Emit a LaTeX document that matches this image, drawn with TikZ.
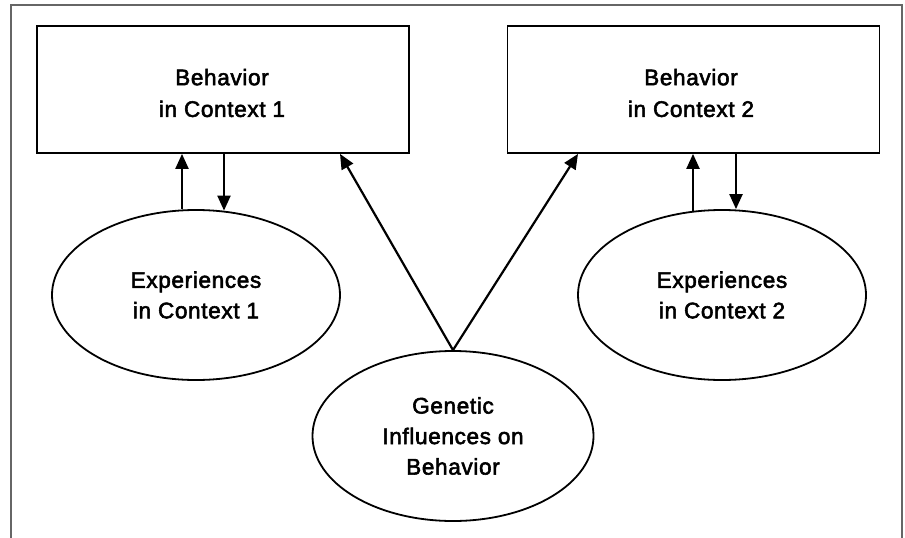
\documentclass[tikz,border=0pt]{standalone}
\usepackage{fontspec}
\setmainfont{Liberation Sans}[FakeBold=2.5,LetterSpace=3]
\usetikzlibrary{shapes.geometric,arrows.meta}
\begin{document}
\begin{tikzpicture}[x=1pt,y=-1pt,
  every node/.style={font=\fontsize{22.5}{30.5}\selectfont, align=center, inner sep=0pt},
  txt/.style={font=\fontsize{22.5}{31.7}\selectfont},
  boxnode/.style={draw=black, line width=1.8pt, minimum width=372pt, minimum height=127pt},
  ellnode/.style={draw=black, ellipse, line width=1.8pt, minimum width=288pt, minimum height=170pt},
  arr/.style={line width=2.2pt, -{Triangle[length=15pt,width=13pt]}},
  framestyle/.style={draw=black!60, line width=2pt}
]
\useasboundingbox (0,0) rectangle (905,538);
\coordinate (fa) at (11,540);
\coordinate (fb) at (11,5);
\coordinate (fc) at (902,5);
\coordinate (fd) at (902,540);
\draw[framestyle] (fa) -- (fb) -- (fc) -- (fd);

\node[boxnode] (b1) at (223,89.5) {};
\node[txt] (b1t) at (222,93) {Behavior\\in Context 1};
\node[boxnode] (b2) at (693.5,89.5) {};
\node[txt] (b2t) at (691,93) {Behavior\\in Context 2};
\node[ellnode] (e1) at (196,295) {Experiences\\in Context 1};
\node[ellnode] (e2) at (722,295) {Experiences\\in Context 2};
\node[ellnode, minimum width=281pt] (e3) at (453,436) {Genetic\\Influences on\\Behavior};

\draw[arr] ([xshift=-14pt]e1.north) -- ([xshift=-14pt]e1.north |- b1.south);
\draw[arr] ([xshift=28pt,yshift=0pt]e1.north |- b1.south) -- ([xshift=28pt,yshift=-1.5pt]e1.north);
\draw[arr] ([xshift=-29pt,yshift=-1.5pt]e2.north) -- ([xshift=-29pt]e2.north |- b2.south);
\draw[arr] ([xshift=14pt]e2.north |- b2.south) -- ([xshift=14pt]e2.north);

\draw[arr] (e3.north) -- ([xshift=117pt]b1.south);
\draw[arr] (e3.north) -- ([xshift=-115.5pt]b2.south);
\end{tikzpicture}
\end{document}
